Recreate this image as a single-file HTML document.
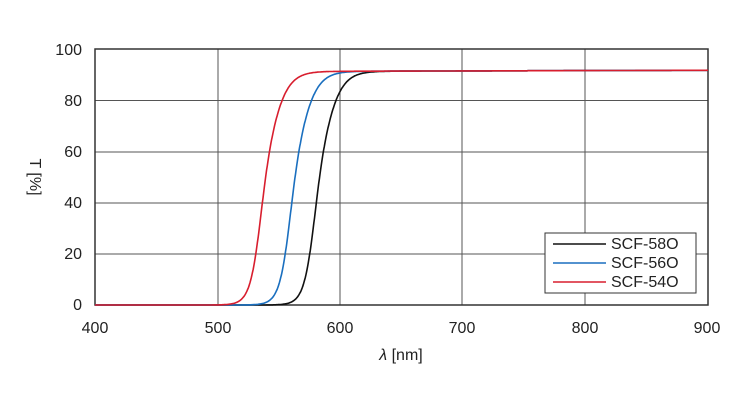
<!DOCTYPE html>
<html><head><meta charset="utf-8"><style>
body{margin:0;background:#fff;width:750px;height:400px;overflow:hidden}
text{font-family:"Liberation Sans",sans-serif;fill:#222}
</style></head><body>
<svg id="s" width="750" height="400" xmlns="http://www.w3.org/2000/svg">
<g stroke="#555" stroke-width="1">
<line x1="95" y1="100.5" x2="708" y2="100.5"/><line x1="95" y1="152" x2="708" y2="152"/>
<line x1="95" y1="203" x2="708" y2="203"/><line x1="95" y1="254" x2="708" y2="254"/>
<line x1="218" y1="49" x2="218" y2="305"/><line x1="340" y1="49" x2="340" y2="305"/>
<line x1="462" y1="49" x2="462" y2="305"/><line x1="585" y1="49" x2="585" y2="305"/>
</g>
<rect x="95" y="49" width="613" height="256" fill="none" stroke="#333" stroke-width="1.5"/>
<g font-size="16" text-anchor="end">
<text x="82" y="55">100</text><text x="82" y="106">80</text><text x="82" y="157">60</text>
<text x="82" y="208">40</text><text x="82" y="259">20</text><text x="82" y="310">0</text>
</g>
<g font-size="16" text-anchor="middle">
<text x="95" y="333">400</text><text x="218" y="333">500</text><text x="340" y="333">600</text>
<text x="462" y="333">700</text><text x="585" y="333">800</text><text x="707" y="333">900</text>
<text x="401" y="360"><tspan font-style="italic">λ</tspan>  [nm]</text>
</g>
<text font-size="16" transform="translate(30,177) rotate(90)" text-anchor="middle">T [%]</text>
<g id="c" fill="none" stroke-width="1.6"></g>
<rect x="545" y="233" width="151" height="60" fill="#fff" stroke="#333" stroke-width="1"/>
<line x1="553" y1="244" x2="606" y2="244" stroke="#111" stroke-width="1.6"/>
<line x1="553" y1="263" x2="606" y2="263" stroke="#1a6fbf" stroke-width="1.6"/>
<line x1="553" y1="282" x2="606" y2="282" stroke="#d81e2e" stroke-width="1.6"/>
<g font-size="16"><text x="611" y="249">SCF-58O</text><text x="611" y="268">SCF-56O</text><text x="611" y="287">SCF-54O</text></g>
</svg>
<script>
var g=document.getElementById('c');
[[582,'#111'],[562,'#1a6fbf'],[538,'#d81e2e']].forEach(function(a){
var p=[];for(var l=400;l<=900;l+=0.5){var d=l-a[0];var k=0.165-0.035*Math.tanh(d/10);var t=(91.3+0.4*(l-600)/300)/(1+Math.exp(-k*d));
var x=95+(l-400)*1.226,y=305-t*2.56;p.push(x.toFixed(1)+','+y.toFixed(1));}
var e=document.createElementNS('http://www.w3.org/2000/svg','polyline');
e.setAttribute('points',p.join(' '));e.setAttribute('stroke',a[1]);g.appendChild(e);});
</script>
</body></html>
